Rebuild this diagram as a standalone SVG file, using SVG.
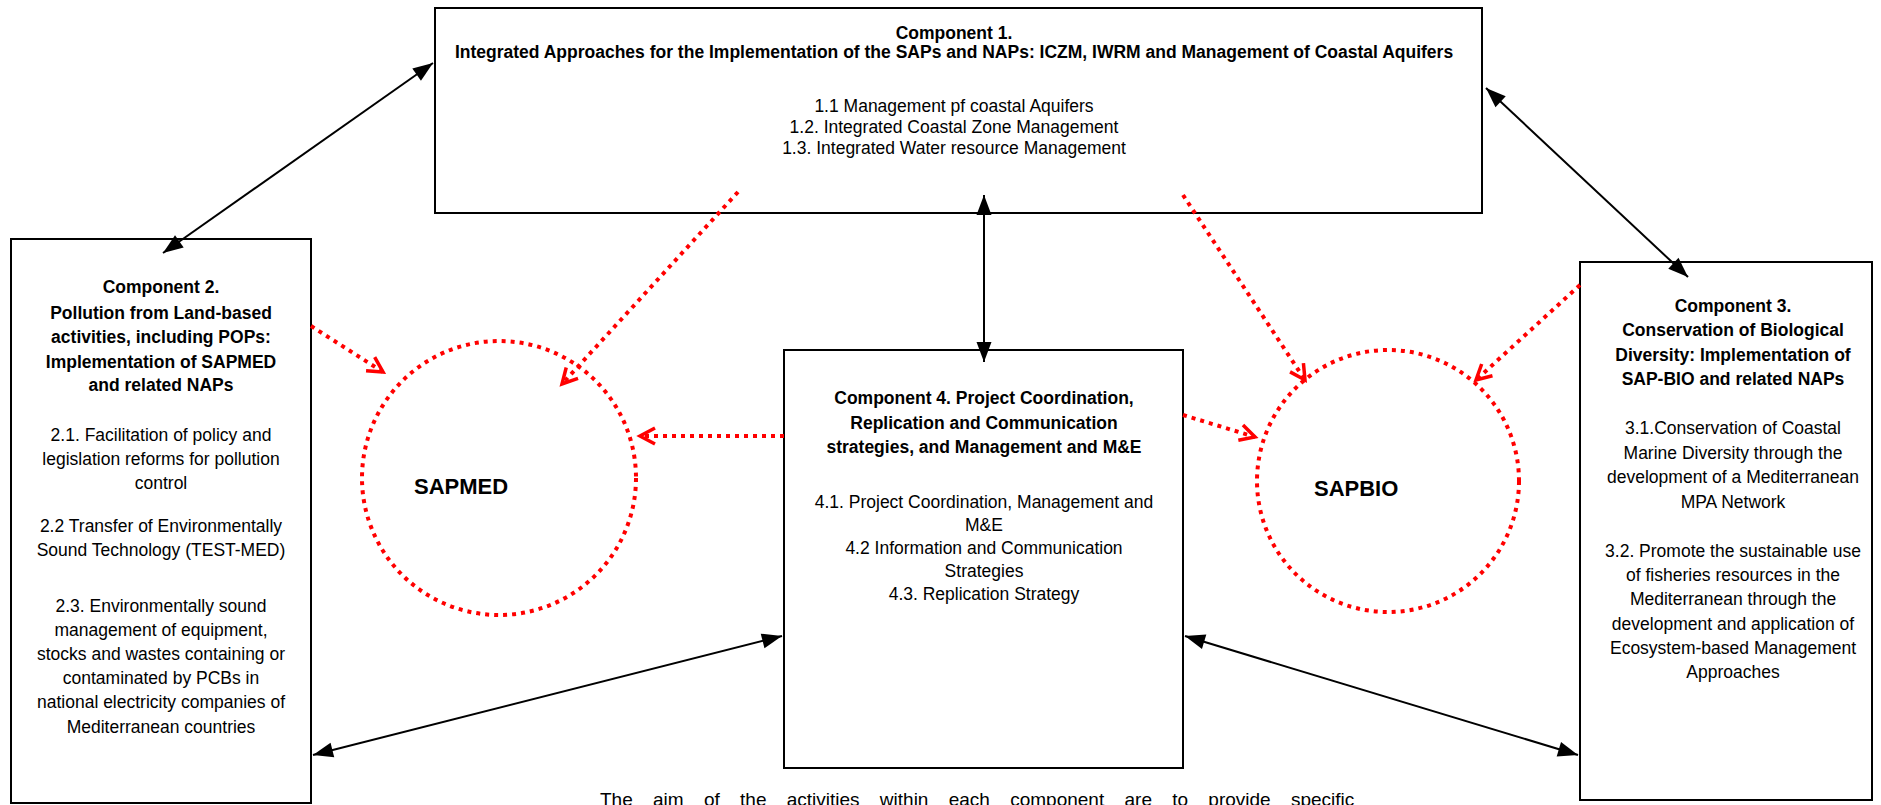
<svg xmlns="http://www.w3.org/2000/svg" width="1881" height="805" viewBox="0 0 1881 805">
<defs>
<style>
.box{fill:#fff;stroke:#000;stroke-width:2}
.t{font-family:"Liberation Sans",Arial,sans-serif;font-size:17.5px;fill:#000;text-anchor:middle}
.b{font-weight:bold}
.circ{fill:none;stroke:#ff0000;stroke-width:4;stroke-dasharray:4 5}
.dot{fill:none;stroke:#ff0000;stroke-width:4;stroke-dasharray:4 5}
.blk{fill:none;stroke:#000;stroke-width:2}
.sap{font-family:"Liberation Sans",Arial,sans-serif;font-size:22px;font-weight:bold;fill:#000}
.note{font-family:"Liberation Sans",Arial,sans-serif;font-size:19px;fill:#000;word-spacing:15px}
</style>
<marker id="ah" markerUnits="userSpaceOnUse" markerWidth="22" markerHeight="15" refX="20" refY="7.5" orient="auto-start-reverse" overflow="visible">
<path d="M0,0 L20,7.5 L0,15 z" fill="#000"/>
</marker>
<marker id="rv" markerUnits="userSpaceOnUse" markerWidth="16" markerHeight="16" refX="15" refY="8" orient="auto" overflow="visible">
<path d="M0,0 L15,8 L0,16" fill="none" stroke="#ff0000" stroke-width="3.5"/>
</marker>
</defs>
<rect width="1881" height="805" fill="#fff"/>

<g id="component1">
<rect class="box" x="435" y="8" width="1047" height="205"/>
<text class="t b" x="954" y="39">Component 1.</text>
<text class="t b" x="954" y="58">Integrated Approaches for the Implementation of the SAPs and NAPs: ICZM, IWRM and Management of Coastal Aquifers</text>
<text class="t" x="954" y="112">1.1 Management pf coastal Aquifers</text>
<text class="t" x="954" y="133">1.2. Integrated Coastal Zone Management</text>
<text class="t" x="954" y="154">1.3. Integrated Water resource Management</text>
</g>

<g id="component2">
<rect class="box" x="11" y="239" width="300" height="564"/>
<text class="t b" x="161" y="293">Component 2.</text>
<text class="t b" x="161" y="319">Pollution from Land-based</text>
<text class="t b" x="161" y="343">activities, including POPs:</text>
<text class="t b" x="161" y="368">Implementation of SAPMED</text>
<text class="t b" x="161" y="391">and related NAPs</text>
<text class="t" x="161" y="441">2.1. Facilitation of policy and</text>
<text class="t" x="161" y="465">legislation reforms for pollution</text>
<text class="t" x="161" y="489">control</text>
<text class="t" x="161" y="532">2.2 Transfer of Environmentally</text>
<text class="t" x="161" y="556">Sound Technology (TEST-MED)</text>
<text class="t" x="161" y="612">2.3. Environmentally sound</text>
<text class="t" x="161" y="636">management of equipment,</text>
<text class="t" x="161" y="660">stocks and wastes containing or</text>
<text class="t" x="161" y="684">contaminated by PCBs in</text>
<text class="t" x="161" y="708">national electricity companies of</text>
<text class="t" x="161" y="733">Mediterranean countries</text>
</g>

<g id="component3">
<rect class="box" x="1580" y="262" width="292" height="538"/>
<text class="t b" x="1733" y="312">Component 3.</text>
<text class="t b" x="1733" y="336">Conservation of Biological</text>
<text class="t b" x="1733" y="361">Diversity: Implementation of</text>
<text class="t b" x="1733" y="385">SAP-BIO and related NAPs</text>
<text class="t" x="1733" y="434">3.1.Conservation of Coastal</text>
<text class="t" x="1733" y="459">Marine Diversity through the</text>
<text class="t" x="1733" y="483">development of a Mediterranean</text>
<text class="t" x="1733" y="508">MPA Network</text>
<text class="t" x="1733" y="557">3.2. Promote the sustainable use</text>
<text class="t" x="1733" y="581">of fisheries resources in the</text>
<text class="t" x="1733" y="605">Mediterranean through the</text>
<text class="t" x="1733" y="630">development and application of</text>
<text class="t" x="1733" y="654">Ecosystem-based Management</text>
<text class="t" x="1733" y="678">Approaches</text>
</g>

<g id="component4">
<rect class="box" x="784" y="350" width="399" height="418"/>
<text class="t b" x="984" y="404">Component 4. Project Coordination,</text>
<text class="t b" x="984" y="429">Replication and Communication</text>
<text class="t b" x="984" y="453">strategies, and Management and M&amp;E</text>
<text class="t" x="984" y="508">4.1. Project Coordination,  Management and</text>
<text class="t" x="984" y="531">M&amp;E</text>
<text class="t" x="984" y="554">4.2 Information and Communication</text>
<text class="t" x="984" y="577">Strategies</text>
<text class="t" x="984" y="600">4.3. Replication Strategy</text>
</g>

<g id="sapmed">
<circle class="circ" cx="499" cy="478" r="137"/>
<text class="sap" x="414" y="494">SAPMED</text>
</g>

<g id="sapbio">
<circle class="circ" cx="1388" cy="481" r="131"/>
<text class="sap" x="1314" y="496">SAPBIO</text>
</g>

<g id="connectors">
<line class="blk" x1="163" y1="253" x2="433" y2="63" marker-start="url(#ah)" marker-end="url(#ah)"/>
<line class="blk" x1="1486" y1="88" x2="1688" y2="277" marker-start="url(#ah)" marker-end="url(#ah)"/>
<line class="blk" x1="984" y1="195" x2="984" y2="362" marker-start="url(#ah)" marker-end="url(#ah)"/>
<line class="blk" x1="313" y1="755" x2="782" y2="636" marker-start="url(#ah)" marker-end="url(#ah)"/>
<line class="blk" x1="1185" y1="636" x2="1578" y2="755" marker-start="url(#ah)" marker-end="url(#ah)"/>
<line class="dot" x1="311" y1="326" x2="383" y2="372" marker-end="url(#rv)"/>
<line class="dot" x1="738" y1="192" x2="562" y2="384" marker-end="url(#rv)"/>
<line class="dot" x1="784" y1="436" x2="640" y2="436" marker-end="url(#rv)"/>
<line class="dot" x1="1183" y1="195" x2="1305" y2="380" marker-end="url(#rv)"/>
<line class="dot" x1="1183" y1="415" x2="1255" y2="437" marker-end="url(#rv)"/>
<line class="dot" x1="1580" y1="285" x2="1476" y2="380" marker-end="url(#rv)"/>
</g>

<text class="note" x="600" y="806">The aim of the activities within each component are to provide specific</text>
</svg>
